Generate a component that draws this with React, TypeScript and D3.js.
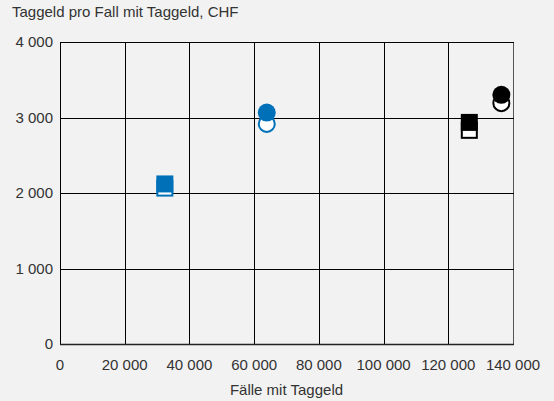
import React from "react";
import * as d3 from "d3";

const categories = ["Gruppe 1", "Gruppe 2", "Gruppe 3", "Gruppe 4"];
const shapes = ["square", "circle", "square", "circle"];
const colors = ["#0071b9", "#0071b9", "#000000", "#000000"];
// hollow markers (earlier year) and filled markers (later year)
const casesPrev = [32400, 63900, 126500, 136400];
const amountPrev = [2065, 2915, 2830, 3190];
const casesCurr = [32400, 63900, 126500, 136400];
const amountCurr = [2120, 3065, 2935, 3300];

const xTicks = [0, 20000, 40000, 60000, 80000, 100000, 120000, 140000];
const yTicks = [0, 1000, 2000, 3000, 4000];

const W = 554;
const H = 401;
const FONT = "'Liberation Sans', Arial, sans-serif";

export default function App() {
  const x = d3.scaleLinear().domain([0, 140000]).range([60, 513]);
  const y = d3.scaleLinear().domain([0, 4000]).range([344, 42]);
  const fmt = (v: number) => d3.format(",")(v).replace(/,/g, " ");
  const S = 17;
  const R = 9;

  const marker = (i: number, cx: number, cy: number, filled: boolean) => {
    const c = colors[i];
    const fill = filled ? c : "#ffffff";
    const sw = filled ? 0 : 2;
    if (shapes[i] === "square") {
      const s = filled ? S : S - 2;
      return (
        <rect key={`${filled}-${i}`} x={cx - s / 2} y={cy - s / 2} width={s} height={s}
          fill={fill} stroke={c} strokeWidth={sw} />
      );
    }
    const r = filled ? R : R - 1;
    return <circle key={`${filled}-${i}`} cx={cx} cy={cy} r={r} fill={fill} stroke={c} strokeWidth={sw} />;
  };

  return (
    <svg width={W} height={H} style={{ display: "block", position: "absolute", left: 0, top: 0 }}>
      <rect width={W} height={H} fill="#f2f2f2" />
      <text x={12} y={17} fontFamily={FONT} fontSize={15} fill="#333">
        Taggeld pro Fall mit Taggeld, CHF
      </text>
      {xTicks.map((t) => (
        <line key={`gx${t}`} x1={Math.round(x(t)) + 0.5} x2={Math.round(x(t)) + 0.5}
          y1={y(4000)} y2={y(0)} stroke={t === 140000 ? "#555" : "#000"} strokeWidth={1} />
      ))}
      {yTicks.map((t) => (
        <line key={`gy${t}`} x1={x(0)} x2={x(140000) + 1} y1={Math.round(y(t)) + 0.5} y2={Math.round(y(t)) + 0.5}
          stroke={t === 0 ? "#222" : "#000"} strokeWidth={t === 0 ? 1.5 : 1} />
      ))}
      {yTicks.map((t) => (
        <text key={`ly${t}`} x={53} y={y(t) + 5} textAnchor="end" fontFamily={FONT} fontSize={15} fill="#333">
          {fmt(t)}
        </text>
      ))}
      {xTicks.map((t) => (
        <text key={`lx${t}`} x={x(t)} y={370} textAnchor="middle" fontFamily={FONT} fontSize={15} fill="#333">
          {fmt(t)}
        </text>
      ))}
      <text x={(x(0) + x(140000)) / 2} y={395} textAnchor="middle" fontFamily={FONT} fontSize={15} fill="#333">
        Fälle mit Taggeld
      </text>
      {categories.map((_, i) => marker(i, x(casesPrev[i]), y(amountPrev[i]), false))}
      {categories.map((_, i) => marker(i, x(casesCurr[i]), y(amountCurr[i]), true))}
    </svg>
  );
}
